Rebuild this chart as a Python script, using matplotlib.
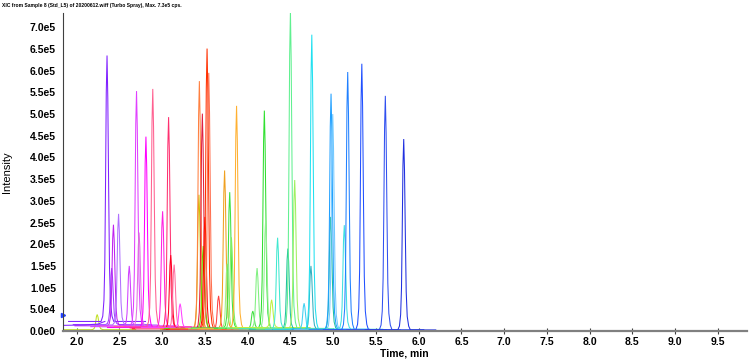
import numpy as np
import matplotlib
matplotlib.use("Agg")
import matplotlib.pyplot as plt
from matplotlib.ticker import FixedLocator, FuncFormatter

# peak table: retention time (min), apex intensity (cps), colour, baseline
rts = [2.24, 2.355, 2.41, 2.43, 2.49, 2.615, 2.70, 2.73, 2.81, 2.89,
       3.005, 3.075, 3.10, 3.14, 3.21, 3.43, 3.435, 3.47, 3.48, 3.50,
       3.525, 3.545, 3.66, 3.73, 3.76, 3.79, 3.81, 3.87, 4.06, 4.11,
       4.195, 4.21, 4.28, 4.35, 4.47, 4.50, 4.55, 4.66, 4.74, 4.75,
       4.97, 4.975, 4.995, 5.13, 5.17, 5.335, 5.61, 5.825]
heights = [3.5e4, 6.13e5, 1.3e5, 2.33e5, 2.56e5, 1.4e5, 5.41e5, 2.17e5, 4.4e5, 5.48e5,
           2.67e5, 4.86e5, 1.7e5, 1.47e5, 5.5e4, 3.1e5, 5.71e5, 4.97e5, 1.9e5, 2.6e5,
           6.47e5, 5.9e5, 7.8e4, 3.64e5, 1.5e5, 3.13e5, 2.1e5, 5.14e5, 4.0e4, 1.38e5,
           5.02e5, 2.5e5, 6.4e4, 2.1e5, 1.86e5, 7.32e5, 3.43e5, 6.0e4, 1.47e5, 6.79e5,
           2.6e5, 5.43e5, 4.97e5, 2.4e5, 5.94e5, 6.13e5, 5.39e5, 4.4e5]
colors = ['#c0e020', '#8020ff', '#a040ff', '#c020f0', '#b070ff', '#d040ff', '#e040ff', '#e070e0', '#ff00ff', '#ff6090',
          '#ff20e0', '#ff3070', '#ff0020', '#ff70a0', '#ff40ff', '#d0c000', '#ff8040', '#e02040', '#60e000', '#ff0000',
          '#ff3000', '#ff7050', '#ff4040', '#f0a020', '#a0f080', '#40e040', '#80f060', '#ffb030', '#40e040', '#80f080',
          '#30e030', '#90f090', '#c0f040', '#40e8d0', '#20c0a0', '#60f090', '#a0f060', '#40d0f0', '#30b0c0', '#20e0f0',
          '#20c0a0', '#20a0ff', '#70c8ff', '#40e0e0', '#2080ff', '#2050ff', '#3050f0', '#2030e0']
bases = [3e3, 2.2e4, 1.5e4, 1.2e4, 1.4e4, 1.0e4, 1.2e4, 1.0e4, 8e3, 1.0e4,
         9e3, 7e3, 5e3, 6e3, 8e3, 4e3, 5e3, 4e3, 6e3, 3e3,
         4e3, 5e3, 3e3, 6e3, 5e3, 7e3, 6e3, 5e3, 6e3, 7e3,
         6e3, 5e3, 8e3, 5e3, 4e3, 6e3, 5e3, 4e3, 3e3, 4e3,
         3e3, 4e3, 3e3, 4e3, 3e3, 3e3, 3e3, 2.5e3]

# peak profile template (offset from apex in min, fraction of apex height)
shape_dt = [-0.07, -0.05, -0.036, -0.026, -0.018, -0.009, 0.0, 0.009, 0.019, 0.029, 0.041, 0.058, 0.078]
shape_fr = [0.0, 0.02, 0.08, 0.22, 0.5, 0.86, 1.0, 0.84, 0.5, 0.2, 0.07, 0.02, 0.0]

# purple low baseline before the first big peak
purple_x = [1.84, 2.10, 2.25, 2.30, 2.33]
purple_y = [1.3e4, 1.4e4, 1.6e4, 2.0e4, 2.2e4]

yticks = [i * 5e4 for i in range(15)]
xticks = [2.0 + i * 0.5 for i in range(16)]

fig = plt.figure(figsize=(7.5, 3.6), dpi=100)
ax = fig.add_axes([63 / 750, 29 / 360, 684 / 750, 318 / 360])

for rt, h, c, b in zip(rts, heights, colors, bases):
    x0 = max(1.84, rt - 0.45)
    x1 = min(6.2, rt + 0.45)
    xs = [x0] + [rt + d for d in shape_dt] + [x1]
    ys = [b] + [b + h * f for f in shape_fr] + [b]
    ax.plot(xs, ys, color=c, lw=0.75, solid_joinstyle='miter')

ax.plot(purple_x, purple_y, color='#8020ff', lw=0.75)

ax.set_xlim(1.84, 9.84)
ax.set_ylim(0, 7.33e5)

ax.xaxis.set_major_locator(FixedLocator(xticks))
ax.yaxis.set_major_locator(FixedLocator(yticks))

def sci(v, pos):
    if v <= 0:
        return '0.0e0'
    e = int(np.floor(np.log10(v) + 1e-9))
    return '%.1fe%d' % (v / 10 ** e, e)

ax.yaxis.set_major_formatter(FuncFormatter(sci))
ax.xaxis.set_major_formatter(FuncFormatter(lambda v, p: '%.1f' % v))

for lab in ax.get_xticklabels() + ax.get_yticklabels():
    lab.set_fontfamily('Liberation Sans')
    lab.set_fontweight('bold')
    lab.set_fontsize(7.5)

ax.tick_params(axis='x', direction='inout', length=4, width=0.8, color='#404040', pad=2)
ax.tick_params(axis='y', length=0, pad=5)

for s in ['top', 'right']:
    ax.spines[s].set_visible(False)
ax.spines['left'].set_color('#404040')
ax.spines['left'].set_linewidth(0.8)
ax.spines['bottom'].set_color('#808080')
ax.spines['bottom'].set_linewidth(1.6)

ax.set_ylabel('Intensity', fontfamily='Liberation Sans', fontsize=8)
ax.yaxis.set_label_coords(-0.075, 0.5)
fig.text(404 / 750, 1 - 353 / 360, 'Time, min', fontfamily='Liberation Sans', fontsize=7.5,
         fontweight='bold', ha='center', va='center')

# small blue marker at the left axis
ax.plot([1.84], [3.7e4], marker='>', color='#2040ff', ms=3, clip_on=False)

fig.text(0.002, 0.993, 'XIC from Sample 8 (Std_L5) of 20200612.wiff (Turbo Spray), Max. 7.3e5 cps.',
         fontfamily='Liberation Sans', fontsize=3.6, fontweight='bold', ha='left', va='top')

fig.savefig('out.png', dpi=100)
